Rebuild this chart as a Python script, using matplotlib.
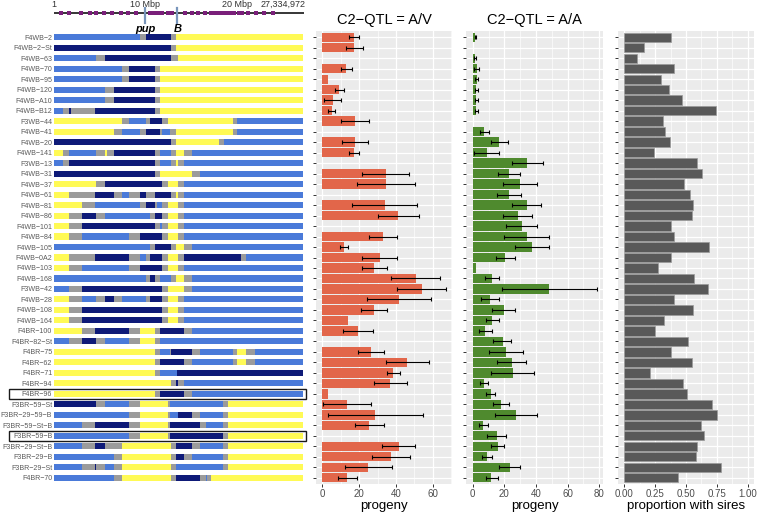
import numpy as np
import matplotlib
matplotlib.use("Agg")
import matplotlib.pyplot as plt
from matplotlib.patches import Rectangle

plt.rcParams["font.family"] = ["Liberation Sans", "DejaVu Sans"]

nan = np.nan
chrom_len = 27.334972  # Mbp

lines = ["F4WB-2", "F4WB-2-St", "F4WB-63", "F4WB-70", "F4WB-95", "F4WB-120", "F4WB-A10",
         "F4WB-B12", "F3WB-44", "F4WB-41", "F4WB-20", "F4WB-141", "F3WB-13", "F4WB-31",
         "F4WB-37", "F4WB-61", "F4WB-81", "F4WB-86", "F4WB-101", "F4WB-84", "F4WB-105",
         "F4WB-0A2", "F4WB-103", "F4WB-168", "F3WB-42", "F4WB-28", "F4WB-108", "F4WB-164",
         "F4BR-100", "F4BR-82-St", "F4BR-75", "F4BR-62", "F4BR-71", "F4BR-94", "F4BR-96",
         "F3BR-59-St", "F3BR-29-59-B", "F3BR-59-St-B", "F3BR-59-B", "F3BR-29-St-B",
         "F3BR-29-B", "F3BR-29-St", "F4BR-70"]
boxed = ["F4BR-96", "F3BR-59-B"]

# haplotype blocks: colour code + end position (Mbp); L light, D dark, G grey, Y yellow
haplo = [
    "L9.37 G10.03 D12.77 G13.39 Y27.33",
    "D12.77 G13.39 Y27.33",
    "L4.57 G5.63 D12.77 G13.57 Y27.33",
    "L7.46 G8.27 D11.12 G11.64 Y27.33",
    "L7.46 G8.27 D11.12 G11.64 Y27.33",
    "L5.63 G6.59 D11.12 G11.64 Y27.33",
    "L5.63 G6.59 D11.12 G11.64 Y27.33",
    "L1.02 G1.68 D1.83 G4.54 D11.12 G11.64 Y27.33",
    "Y7.46 G8.27 L10.06 G10.57 D11.78 G12.48 Y19.61 G20.05 L27.33",
    "Y6.59 G7.46 L9.37 G10.06 D11.64 G11.86 L12.73 G13.39 Y19.61 G20.05 L27.33",
    "D12.77 G13.39 Y18.04 G18.59 L27.33",
    "Y1.02 G1.68 L4.57 G5.63 Y5.78 G6.59 D11.12 G11.64 L12.77 G13.39 Y14.2 G15.11 L27.33",
    "L1.02 G1.68 D11.12 G11.64 L12.77 G13.39 Y13.57 G14.2 L27.33",
    "D11.12 G11.64 Y15.11 G16.03 L27.33",
    "Y4.57 G5.63 D11.78 G12.48 Y13.57 G14.2 L27.33",
    "Y1.68 G4.54 D6.59 G7.46 L8.27 G9.37 D10.06 G11.09 D12.77 G13.39 Y13.57 G14.2 L27.33",
    "Y3.07 G4.54 L9.37 G10.06 D11.12 G11.27 L11.78 G12.48 Y13.57 G14.2 L27.33",
    "Y1.68 G3.07 D4.57 G5.63 L10.57 G11.09 D11.78 G12.48 Y13.57 G14.2 L27.33",
    "Y1.68 G3.07 D11.12 G11.64 L11.86 G12.48 Y13.57 G14.2 L27.33",
    "Y1.68 G3.07 L8.27 G9.37 D11.78 G12.48 Y13.57 G14.2 L27.33",
    "L10.57 G11.09 D12.77 G13.39 Y14.2 G15.11 L27.33",
    "Y1.68 G4.54 D8.27 G9.37 L10.06 G10.57 D11.78 G12.48 Y13.57 G14.2 D20.49 G21.04 L27.33",
    "Y1.68 G3.07 L8.27 G9.37 D11.78 G12.48 Y13.57 G14.2 L27.33",
    "L10.06 G10.57 D11.09 G11.64 L12.77 G13.39 Y14.2 G15.11 L27.33",
    "L1.68 G3.07 D11.78 G12.48 Y14.2 G15.11 L27.33",
    "Y1.68 G3.07 L4.57 G5.63 D6.59 G7.46 L10.06 G10.57 D11.78 G12.48 Y13.57 G14.2 L27.33",
    "Y1.68 G3.07 D11.78 G12.48 Y13.57 G14.2 L27.33",
    "Y1.68 G3.07 D11.78 G12.48 Y13.57 G14.2 L27.33",
    "Y3.07 G4.54 D8.27 G9.37 Y11.12 G11.64 D14.2 G15.11 L27.33",
    "L1.68 G3.07 D4.57 G5.63 L8.27 G9.37 Y11.12 G11.64 L27.33",
    "Y11.12 G11.64 L12.66 G12.77 D15.11 G16.03 L19.61 G20.05 Y21.04 G22.06 L27.33",
    "Y11.12 G11.64 D14.2 G15.11 L19.61 G20.05 Y21.04 G22.06 L27.33",
    "Y11.12 G11.64 L13.46 D27.33",
    "Y12.77 G13.39 D13.57 G14.2 L27.33",
    "Y11.12 G11.64 D14.2 G15.11 L27.33",
    "D4.57 G5.63 L8.27 G9.37 Y12.48 G12.66 L18.51 G19.06 Y27.33",
    "L8.27 G9.37 Y12.48 G12.66 L13.57 D15.11 G16.03 L18.51 G19.06 Y27.33",
    "L3.07 G4.54 D8.27 G9.37 Y12.48 G12.66 D16.03 G16.61 L18.51 G19.06 Y27.33",
    "L8.27 G9.37 Y12.48 G12.66 D18.51 G19.06 Y27.33",
    "L3.07 G4.54 D5.63 G7.46 Y12.77 G13.39 D15.11 G16.03 L18.51 G19.06 Y27.33",
    "L6.59 G7.46 Y12.77 G13.39 D14.27 G15.11 L18.51 G19.06 Y27.33",
    "L3.07 G4.54 D4.65 G5.63 L6.59 G7.46 Y12.77 G13.39 L18.51 G19.06 Y27.33",
    "L6.59 G7.46 Y12.77 G13.39 D16.03 G16.61 L16.76 G17.2 Y27.33",
]

markers = [0.80, 1.61, 3.00, 3.92, 4.65, 5.49, 6.40, 7.32, 8.12, 9.03, 10.50, 10.98,
           11.41, 11.85, 12.51, 12.95, 14.34, 15.15, 15.81, 16.54, 17.20, 17.64, 18.08,
           18.44, 18.80, 19.29, 19.76, 20.27, 20.56, 21.29, 22.10, 23.05, 24.04]
genes = {"pup": 10.02, "B": 13.53}

av_mean = [17.3, 17.5, nan, 13.0, 2.9, 9.2, 5.6, 5.2, 17.7, nan, 17.7, 17.3, nan, 34.4, 34.4,
           nan, 34.0, 41.3, nan, 33.0, 11.9, 31.4, 28.1, 50.8, 54.0, 41.6, 28.1, 14.0, 19.5,
           nan, 26.5, 46.1, 38.6, 37.0, 2.9, 13.5, 28.5, 25.6, nan, 41.4, 37.3, 24.9, 13.7]
av_lo = [14.8, 12.8, nan, 10.0, nan, 6.7, 1.1, 3.2, 10.3, nan, 10.5, 14.6, nan, 21.6, 18.6,
         nan, 16.4, 30.3, nan, 25.2, 9.4, 21.8, 21.4, 37.3, 40.7, 24.5, 21.3, nan, 11.5,
         nan, 19.3, 34.6, 35.0, 27.9, nan, 0.7, 2.9, 17.8, nan, 32.6, 27.0, 12.3, 8.5]
av_hi = [20.2, 22.0, nan, 16.0, nan, 11.7, 10.0, 6.7, 25.2, nan, 24.7, 20.2, nan, 46.8, 50.5,
         nan, 51.5, 52.3, nan, 40.7, 13.9, 40.7, 35.0, 64.1, 67.0, 58.7, 35.1, nan, 27.4,
         nan, 33.3, 57.8, 42.2, 45.9, nan, 26.3, 54.6, 33.5, nan, 50.3, 47.4, 37.7, 18.7]

aa_mean = [1.7, nan, 1.3, 2.5, 2.5, 2.3, 2.1, 2.1, nan, 7.4, 16.9, 8.9, 34.6, 23.2, 30.0,
           23.2, 34.2, 28.5, 31.0, 34.2, 37.6, 20.5, 1.9, 12.0, 48.5, 11.0, 19.6, 12.4, 7.8,
           19.0, 20.9, 24.7, 25.3, 7.4, 11.4, 17.7, 27.6, 6.8, 15.2, 15.8, 9.1, 23.4, 11.8]
aa_lo = [1.3, nan, 0.6, 1.0, 1.5, 1.7, 1.5, 1.5, nan, 4.9, 11.8, 0.8, 24.9, 16.2, 19.4,
         15.6, 24.9, 19.4, 21.1, 20.0, 27.0, 14.8, nan, 8.0, 18.6, 5.3, 12.0, 8.4, 4.2,
         13.1, 10.1, 15.6, 11.6, 4.9, 8.6, 13.1, 14.3, 4.2, 9.3, 11.4, 5.9, 16.7, 8.2]
aa_hi = [2.3, nan, 2.1, 4.2, 3.6, 3.2, 3.4, 3.2, nan, 10.1, 22.2, 16.9, 44.3, 30.0, 40.5,
         30.4, 43.5, 37.6, 40.7, 48.1, 48.3, 26.6, nan, 16.5, 78.5, 16.9, 27.0, 16.5, 12.0,
         24.5, 32.1, 33.8, 39.0, 9.9, 14.3, 22.8, 40.9, 9.5, 20.9, 20.0, 12.4, 30.2, 15.8]

prop_sires = [0.38, 0.16, 0.105, 0.40, 0.30, 0.36, 0.47, 0.74, 0.31, 0.33, 0.37, 0.245,
              0.59, 0.63, 0.48, 0.53, 0.56, 0.545, 0.38, 0.40, 0.69, 0.38, 0.27, 0.566,
              0.677, 0.40, 0.56, 0.326, 0.253, 0.515, 0.38, 0.55, 0.205, 0.474, 0.512,
              0.714, 0.747, 0.62, 0.644, 0.593, 0.577, 0.787, 0.434]

hap_colors = {"L": "#4a7ad9", "D": "#0e1a78", "G": "#9b9b9b", "Y": "#fffa55"}

W, H = 757, 514
fig = plt.figure(figsize=(W / 100, H / 100), dpi=100)


def rect(l, t, r, b):
    return [l / W, 1 - b / H, (r - l) / W, (b - t) / H]


n = len(lines)
rows = np.arange(n)
ylim = (n - 1 + 0.6, -0.6)

# --- haplotype panel ---
hx = fig.add_axes(rect(54, 31, 303.5, 484))
for i, s in enumerate(haplo):
    start = 0.0
    for tok in s.split():
        end = min(float(tok[1:]), chrom_len)
        hx.barh(i, end - start, left=start, height=0.58, color=hap_colors[tok[0]], lw=0)
        start = end
hx.set_xlim(0, chrom_len)
hx.set_ylim(*ylim)
hx.set_yticks(rows)
hx.set_yticklabels([s.replace("-", "\u2212") for s in lines], fontsize=5.1, color="#5a5a5a")
hx.tick_params(axis="y", length=0, pad=1.3)
hx.set_xticks([])
for sp in hx.spines.values():
    sp.set_visible(False)
for name in boxed:
    i = lines.index(name)
    hx.add_patch(Rectangle((-0.181 * chrom_len, i - 0.5), 1.193 * chrom_len, 1.0,
                           fill=False, ec="#1a1a1a", lw=1.0, clip_on=False))

# --- chromosome map on top ---
cx = fig.add_axes(rect(54, 0, 303.5, 31))
cx.set_xlim(0, chrom_len)
cx.set_ylim(31, 0)
cx.axis("off")
cx.plot([0, chrom_len], [13.3, 13.3], color="black", lw=1.1)
cx.plot(markers, [13.3] * len(markers), ls="none", marker="s", ms=2.6, mew=0,
        color="#7a1f7a")
for g, pos in genes.items():
    cx.plot([pos, pos], [8, 23], color="#7895bb", lw=1.6)
    cx.text(pos, 28.5, g, ha="center", va="center", fontsize=8, fontweight="bold",
            style="italic")
cx.text(0, 4.5, "1", ha="center", va="center", fontsize=6.5, color="#333333")
cx.text(10, 4.5, "10 Mbp", ha="center", va="center", fontsize=6.5, color="#333333")
cx.text(20, 4.5, "20 Mbp", ha="center", va="center", fontsize=6.5, color="#333333")
cx.text(chrom_len + 0.25, 4.5, "27,334,972", ha="right", va="center", fontsize=6.5,
        color="#333333")


def gg_panel(ax, xlim, major, minor, labels):
    ax.set_facecolor("#ebebeb")
    for sp in ax.spines.values():
        sp.set_visible(False)
    ax.set_xlim(*xlim)
    ax.set_ylim(*ylim)
    ax.set_xticks(major)
    ax.set_xticklabels(labels)
    ax.set_xticks(minor, minor=True)
    ax.set_yticks(rows)
    ax.set_yticklabels([])
    ax.grid(which="major", color="white", lw=0.9)
    ax.grid(which="minor", axis="x", color="white", lw=0.45)
    ax.set_axisbelow(True)
    ax.tick_params(axis="both", which="major", length=2.5, width=0.7, color="#333333",
                   labelsize=7, labelcolor="#4d4d4d", pad=1.2)
    ax.tick_params(axis="x", which="minor", length=0)


def bars_with_err(ax, mean, lo, hi, color):
    mean, lo, hi = np.array(mean), np.array(lo), np.array(hi)
    ok = ~np.isnan(mean)
    ax.barh(rows[ok], mean[ok], height=0.9, color=color, lw=0)
    ek = ok & ~np.isnan(lo)
    ax.errorbar(mean[ek], rows[ek], xerr=[mean[ek] - lo[ek], hi[ek] - mean[ek]],
                fmt="none", ecolor="black", elinewidth=0.8, capsize=1.2, capthick=0.8)


av = fig.add_axes(rect(316, 31, 452, 484))
gg_panel(av, (-3.35, 70.35), [0, 20, 40, 60], [10, 30, 50, 70], ["0", "20", "40", "60"])
bars_with_err(av, av_mean, av_lo, av_hi, "#e2664a")
av.set_title("C2\u2212QTL = A/V", fontsize=10.5, pad=5)
av.set_xlabel("progeny", fontsize=9.5, labelpad=0.5)

aa = fig.add_axes(rect(466.5, 31, 603, 484))
gg_panel(aa, (-3.92, 82.4), [0, 20, 40, 60, 80], [10, 30, 50, 70],
         ["0", "20", "40", "60", "80"])
bars_with_err(aa, aa_mean, aa_lo, aa_hi, "#4f8a2e")
aa.set_title("C2\u2212QTL = A/A", fontsize=10.5, pad=5)
aa.set_xlabel("progeny", fontsize=9.5, labelpad=0.5)

px = fig.add_axes(rect(618, 31, 754, 484))
gg_panel(px, (-0.05, 1.05), [0, 0.25, 0.5, 0.75, 1.0], [0.125, 0.375, 0.625, 0.875],
         ["0.00", "0.25", "0.50", "0.75", "1.00"])
px.barh(rows, prop_sires, height=0.9, color="#595959", edgecolor="#9a9a9a", lw=0.5)
px.set_xlabel("proportion with sires", fontsize=9.5, labelpad=0.5)

fig.savefig("out.png", dpi=100)
